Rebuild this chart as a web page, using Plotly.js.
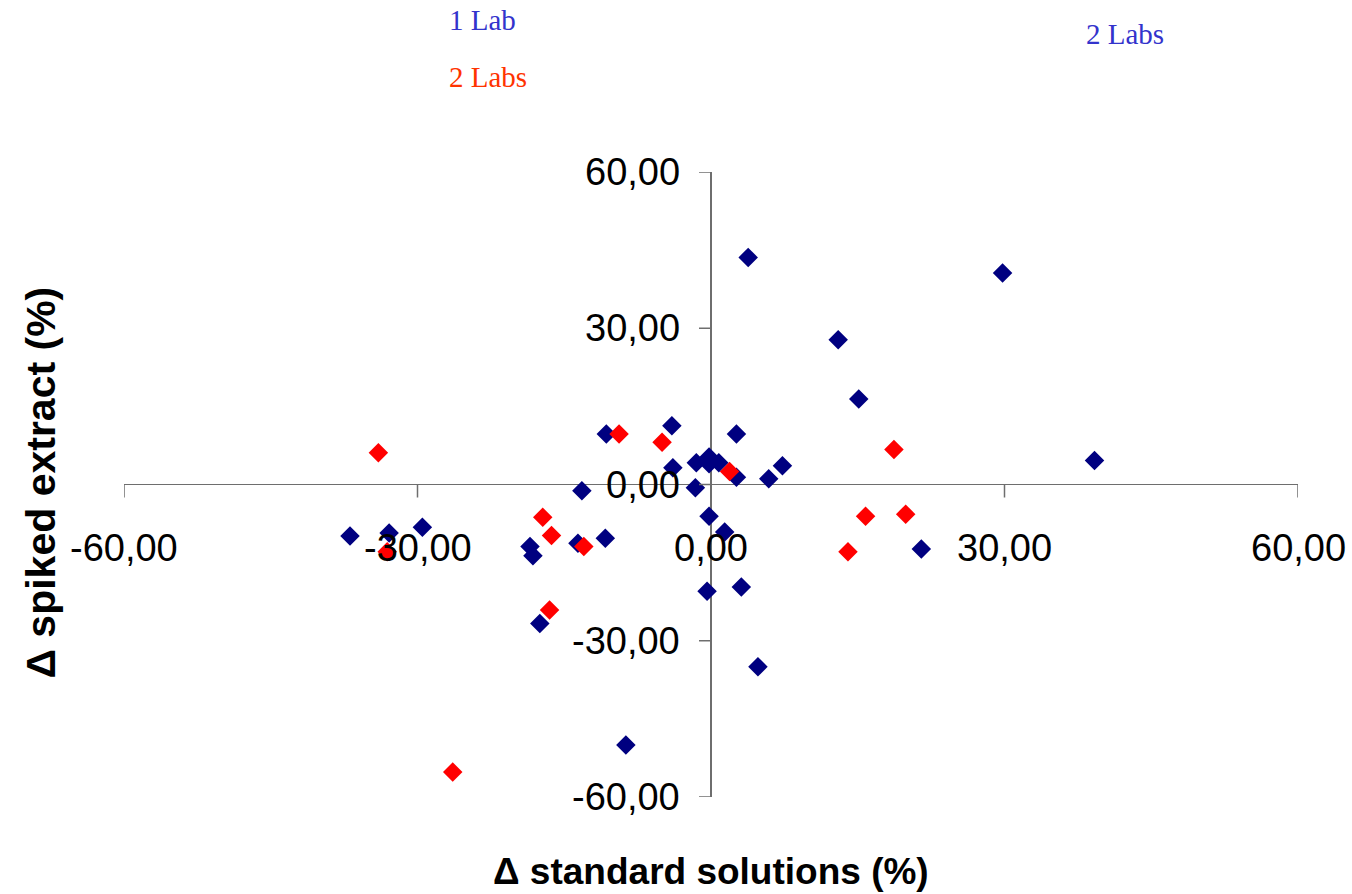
<!DOCTYPE html>
<html>
<head>
<meta charset="utf-8">
<script src="https://cdn.plot.ly/plotly-3.0.1.min.js"></script>
<style>html,body{margin:0;padding:0;background:#fff;}#chart{width:1352px;height:894px;}</style>
</head>
<body>
<div id="chart"></div>
<script>
// Series 1 (navy diamonds)
const blueX = [3.8, 29.8, 13.0, 15.1, 39.2, 21.5, -4.0, -10.7, 2.6, -3.9, -1.5, -0.2, -0.2, 0.8, 2.6, 5.9, 7.3, -1.6, -13.2, -0.2, 1.4, -36.9, -32.9, -29.5, -18.5, -18.2, -13.6, -10.8, -0.4, 3.1, -17.5, 4.8, -8.7];
const blueY = [43.6, 40.6, 27.8, 16.4, 4.6, -12.4, 11.3, 9.7, 9.7, 3.2, 4.2, 5.3, 4.0, 4.2, 1.4, 1.1, 3.6, -0.6, -1.2, -6.1, -9.1, -9.9, -9.3, -8.2, -11.9, -13.7, -11.3, -10.3, -20.5, -19.7, -26.7, -35.0, -50.0];
// Series 2 (red diamonds)
const redX = [-34.0, -33.1, -17.2, -16.3, -13.0, -16.5, -26.4, -9.4, -5.0, 1.9, 18.7, 15.8, 19.9, 14.0];
const redY = [6.1, -12.9, -6.3, -9.8, -11.9, -24.1, -55.2, 9.7, 8.1, 2.5, 6.7, -6.1, -5.7, -12.9];
// Axis ticks
const tickVals = [-60, -30, 0, 30, 60];
const tickText = ['-60,00', '-30,00', '0,00', '30,00', '60,00'];
const xTitle = '\u0394 standard solutions (%)';
const yTitle = '\u0394 spiked extract (%)';
const legendTexts = ['1 Lab', '2 Labs', '2 Labs'];

const axisColor = '#6e6e6e';
const labelFont = {family: 'Liberation Sans, Arial, sans-serif', size: 38, color: '#000'};

const traces = [
  {x: blueX, y: blueY, type: 'scatter', mode: 'markers', name: 'blue',
   marker: {symbol: 'diamond', size: 15, color: '#000080'}},
  {x: redX, y: redY, type: 'scatter', mode: 'markers', name: 'red',
   marker: {symbol: 'diamond', size: 15, color: '#ff0000'}}
];

const shapes = [];
const annotations = [];
tickVals.forEach((v, i) => {
  shapes.push({type: 'line', xref: 'x', yref: 'y', x0: v, x1: v, ysizemode: 'pixel', yanchor: 0, y0: 0, y1: -13,
    line: {color: axisColor, width: 1.5}});
  shapes.push({type: 'line', xref: 'x', yref: 'y', y0: v, y1: v, xsizemode: 'pixel', xanchor: 0, x0: 0, x1: -12,
    line: {color: axisColor, width: 1.5}});
  annotations.push({xref: 'x', yref: 'y', x: v, y: 0, text: tickText[i], showarrow: false,
    xanchor: 'center', yanchor: 'middle', yshift: -63, font: labelFont});
  annotations.push({xref: 'x', yref: 'y', x: 0, y: v, text: tickText[i], showarrow: false,
    xanchor: 'right', yanchor: 'middle', xshift: -29, font: labelFont});
});

annotations.push({xref: 'paper', yref: 'paper', x: 0.5, y: 0, yshift: -74, xanchor: 'center', yanchor: 'middle',
  text: '<b>' + xTitle + '</b>', showarrow: false, font: {family: 'Liberation Sans, Arial, sans-serif', size: 37, color: '#000'}});
annotations.push({xref: 'paper', yref: 'paper', x: 0, xshift: -84, y: 0.5, yshift: 2, xanchor: 'center', yanchor: 'middle', textangle: -90,
  text: '<b>' + yTitle + '</b>', showarrow: false, font: {family: 'Liberation Sans, Arial, sans-serif', size: 41, color: '#000'}});

const serif = 'Liberation Serif, Times New Roman, serif';
annotations.push({xref: 'paper', yref: 'paper', x: (447 - 123.6) / 1174.4, y: (894 - 20 - 96.5) / 625.5, xanchor: 'left', yanchor: 'middle',
  text: legendTexts[0], showarrow: false, font: {family: serif, size: 29, color: '#3333cc'}});
annotations.push({xref: 'paper', yref: 'paper', x: (447 - 123.6) / 1174.4, y: (894 - 77 - 96.5) / 625.5, xanchor: 'left', yanchor: 'middle',
  text: legendTexts[1], showarrow: false, font: {family: serif, size: 29, color: '#ff3300'}});
annotations.push({xref: 'paper', yref: 'paper', x: (1084 - 123.6) / 1174.4, y: (894 - 34 - 96.5) / 625.5, xanchor: 'left', yanchor: 'middle',
  text: legendTexts[2], showarrow: false, font: {family: serif, size: 29, color: '#3333cc'}});

const layout = {
  width: 1352, height: 894,
  margin: {l: 123.6, r: 54, t: 172, b: 96.5},
  paper_bgcolor: '#fff', plot_bgcolor: '#fff',
  showlegend: false,
  xaxis: {range: [-60, 60], showgrid: false, zeroline: true, zerolinecolor: axisColor, zerolinewidth: 1.5,
          showticklabels: false, ticks: '', showline: false, fixedrange: true},
  yaxis: {range: [-60, 60], showgrid: false, zeroline: true, zerolinecolor: axisColor, zerolinewidth: 1.5,
          showticklabels: false, ticks: '', showline: false, fixedrange: true},
  shapes: shapes,
  annotations: annotations
};

Plotly.newPlot('chart', traces, layout, {displayModeBar: false, staticPlot: true});
</script>
</body>
</html>
